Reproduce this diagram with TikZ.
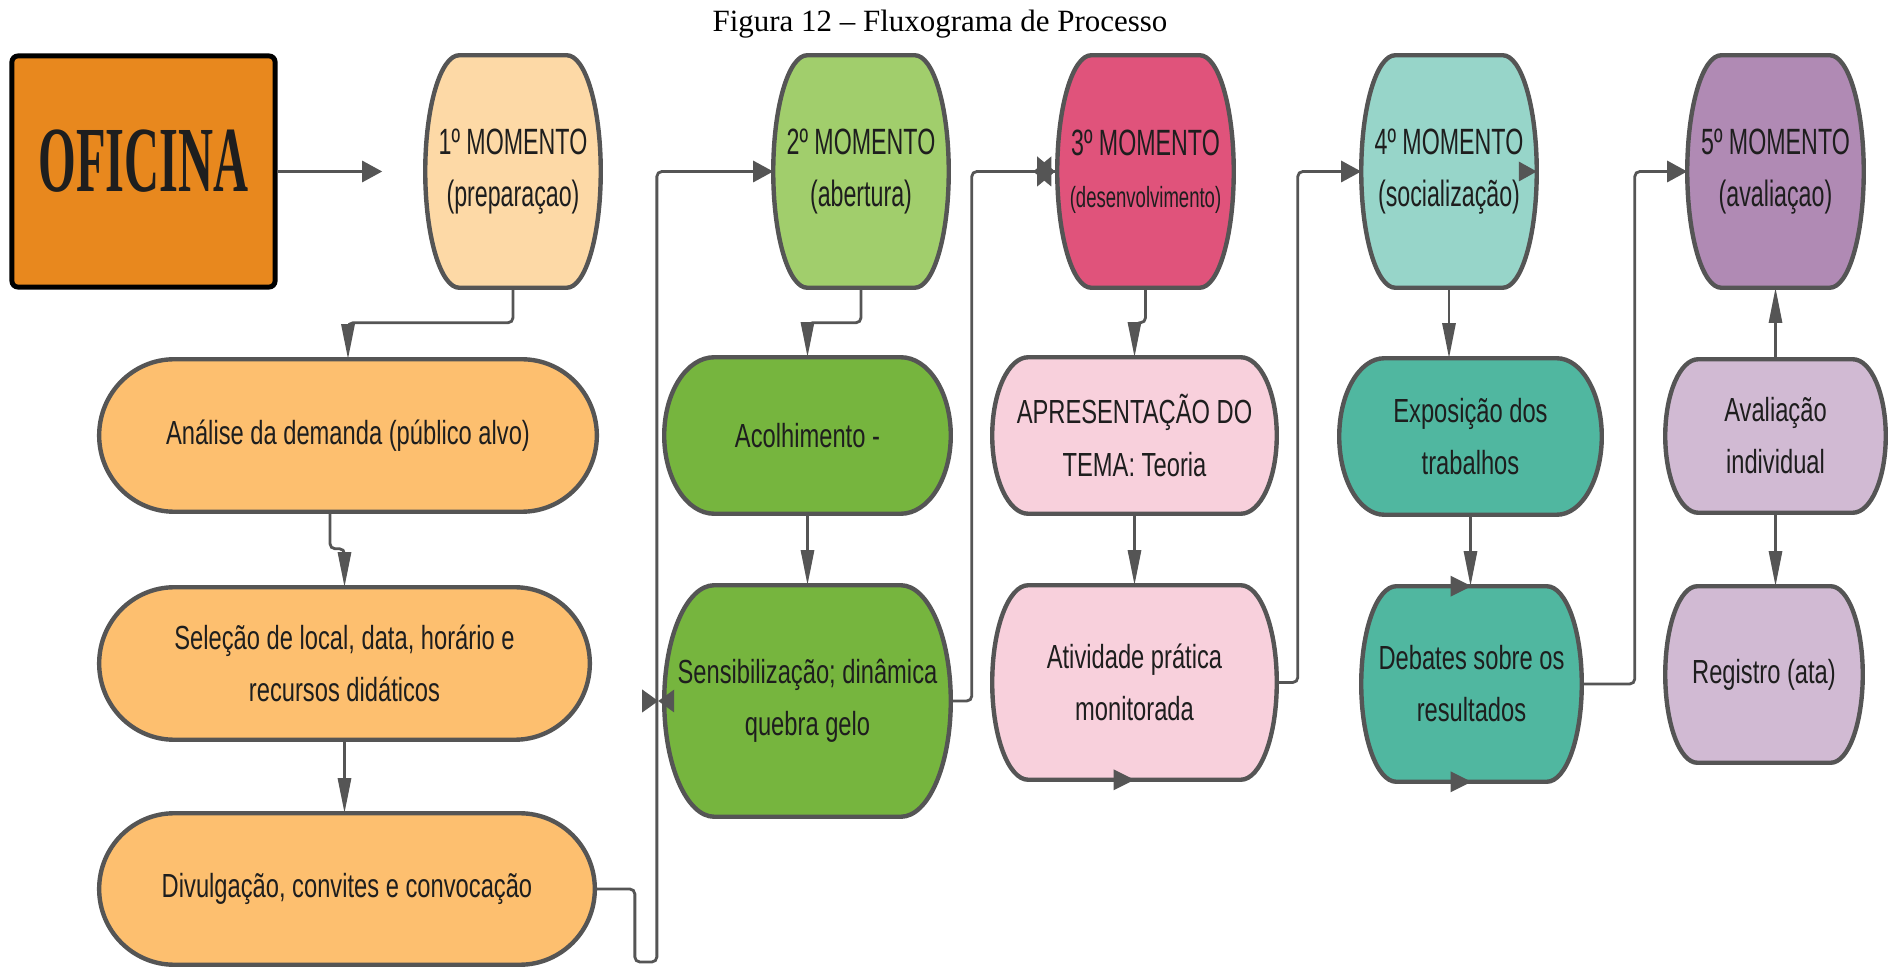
\documentclass[tikz,border=0pt]{standalone}
\usepackage{fontspec}
\setmainfont{Liberation Serif}
\newfontfamily\boxfont[FakeStretch=0.71]{Liberation Sans}
\newfontfamily\momfont[FakeStretch=0.635]{Liberation Sans}
\newfontfamily\oficfont[FakeStretch=0.52]{Liberation Serif}
\usepackage{xcolor}
\usepackage{tikz}
\usetikzlibrary{arrows.meta, calc, backgrounds}

\definecolor{linegray}{HTML}{555555}
\definecolor{txtdark}{HTML}{1E1E1E}
\definecolor{oficorange}{HTML}{E8881E}
\definecolor{momA}{HTML}{FDD9A6}
\definecolor{stepA}{HTML}{FDBF6F}
\definecolor{momB}{HTML}{A1CE6C}
\definecolor{stepB}{HTML}{76B53E}
\definecolor{momC}{HTML}{E0537B}
\definecolor{stepC}{HTML}{F8D0DC}
\definecolor{momD}{HTML}{97D5C9}
\definecolor{stepD}{HTML}{50B7A0}
\definecolor{momE}{HTML}{B08AB4}
\definecolor{stepE}{HTML}{D1BAD3}

% outline with half-ellipse ends behind a named node: node, end radius, fill
\newcommand{\pillshape}[3]{%
  \draw[boxline, fill=#3]
    let \p1=(#1.north west), \p2=(#1.south east), \n1={0.5*(\y1-\y2)} in
    (\x1+#2,\y1) -- (\x2-#2,\y1)
    arc[start angle=90, end angle=-90, x radius=#2, y radius=\n1]
    -- (\x1+#2,\y2)
    arc[start angle=270, end angle=90, x radius=#2, y radius=\n1] -- cycle;}

\begin{document}
\begin{tikzpicture}[
    x=0.01cm, y=-0.01cm,
    momento/.style={inner sep=0, minimum width=1.74cm, minimum height=2.31cm, align=center, text=txtdark, font=\momfont\fontsize{10.4pt}{14.8pt}\selectfont},
    stepbox/.style={inner sep=0, align=center, text=txtdark, font=\boxfont\fontsize{9.5pt}{14.8pt}\selectfont},
    boxline/.style={draw=linegray, line width=1.25pt},
    conn/.style={draw=linegray, line width=0.8pt, rounded corners=0.05cm},
    harrow/.style={conn, -{Triangle[length=0.2cm, width=0.21cm]}},
    varrow/.style={conn, -{Triangle[length=0.35cm, width=0.13cm]}},
]
    \useasboundingbox (0,0) rectangle (1890,967);

    % Title and start
    \node[anchor=base, font=\fontsize{8.8pt}{10pt}\selectfont] (title) at (940,32) {Figura 12 – Fluxograma de Processo};
    \node[draw=black, line width=1.4pt, rounded corners=0.06cm, fill=oficorange, minimum width=2.63cm, minimum height=2.31cm, text depth=0.22cm, text=txtdark, font=\oficfont\bfseries\fontsize{26.5pt}{28pt}\selectfont] (oficina) at (143.5,171.5) {OFICINA};

    % Moments
    \node[momento] (m1) at (513,171.5) {1º MOMENTO\\(preparaçao)};
    \node[momento] (m2) at (861,171.5) {2º MOMENTO\\(abertura)};
    \node[momento, minimum width=1.75cm] (m3) at (1145.5,171.5) {3º MOMENTO\\{\fontsize{8.3pt}{14.8pt}\selectfont(desenvolvimento)}};
    \node[momento] (m4) at (1449,171.5) {4º MOMENTO\\(socialização)};
    \node[momento, minimum width=1.75cm] (m5) at (1775.5,171.5) {5º MOMENTO\\(avaliaçao)};

    % Steps
    \node[stepbox, minimum width=4.96cm, minimum height=1.51cm] (analise) at (348,435.5) {Análise da demanda (público alvo)};
    \node[stepbox, minimum width=4.89cm, minimum height=1.51cm] (selecao) at (344.5,663.5) {Seleção de local, data, horário e\\recursos didáticos};
    \node[stepbox, minimum width=4.94cm, minimum height=1.50cm] (divulg) at (347,889) {Divulgação, convites e convocação};
    \node[stepbox, minimum width=2.85cm, minimum height=1.55cm] (acolh) at (807.5,435.5) {Acolhimento -};
    \node[stepbox, minimum width=2.85cm, minimum height=2.30cm] (sensib) at (807.5,701) {Sensibilização; dinâmica\\quebra gelo};
    \node[stepbox, minimum width=2.83cm, minimum height=1.55cm] (apres) at (1134.5,435.5) {APRESENTAÇÃO DO\\TEMA: Teoria};
    \node[stepbox, minimum width=2.83cm, minimum height=1.93cm] (ativ) at (1134.5,682.5) {Atividade prática\\monitorada};
    \node[stepbox, minimum width=2.61cm, minimum height=1.55cm] (expo) at (1470.5,436.5) {Exposição dos\\trabalhos};
    \node[stepbox, minimum width=2.19cm, minimum height=1.94cm] (debates) at (1471.5,684) {Debates sobre os\\resultados};
    \node[stepbox, minimum width=2.19cm, minimum height=1.52cm] (aval) at (1775.5,436) {Avaliação\\individual};
    \node[stepbox, minimum width=1.96cm, minimum height=1.75cm] (registro) at (1764,674.5) {Registro (ata)};

    % Box outlines
    \begin{scope}[on background layer]
        \pillshape{m1}{0.34cm}{momA}
        \pillshape{m2}{0.34cm}{momB}
        \pillshape{m3}{0.34cm}{momC}
        \pillshape{m4}{0.34cm}{momD}
        \pillshape{m5}{0.34cm}{momE}
        \pillshape{analise}{0.75cm}{stepA}
        \pillshape{selecao}{0.75cm}{stepA}
        \pillshape{divulg}{0.75cm}{stepA}
        \pillshape{acolh}{0.5cm}{stepB}
        \pillshape{sensib}{0.5cm}{stepB}
        \pillshape{apres}{0.36cm}{stepC}
        \pillshape{ativ}{0.36cm}{stepC}
        \pillshape{expo}{0.45cm}{stepD}
        \pillshape{debates}{0.35cm}{stepD}
        \pillshape{aval}{0.33cm}{stepE}
        \pillshape{registro}{0.32cm}{stepE}
    \end{scope}

    % Connectors
    \draw[harrow, shorten >=0.43cm] (oficina) -- (m1);
    \draw[varrow] (m1.south) -- ++(0,35) -| (analise.north);
    \draw[varrow] ([xshift=-0.18cm]analise.south) -- ++(0,37) -| (selecao.north);
    \draw[varrow] (selecao.south) -- (selecao.south |- divulg.north);
    \draw[harrow] (divulg.east) -- ++(40,0) -- ++(0,73) -- ++(22,0) |- (m2.west);
    \draw[varrow] (m2.south) -- ++(0,35) -| (acolh.north);
    \draw[varrow] (acolh) -- (sensib);
    \draw[conn] (sensib.east) -- ++(21,0) |- (m3.west);
    \draw[varrow] (m3.south) -- ++(0,35) -| (apres.north);
    \draw[varrow] (apres) -- (ativ);
    \draw[harrow] (ativ.east) -- ++(21,0) |- (m4.west);
    \draw[varrow] (m4.south) -- (m4.south |- expo.north);
    \draw[varrow] (expo.south) -- (expo.south |- debates.north);
    \draw[harrow] (debates.east) -- ++(53,0) |- (m5.west);
    \draw[varrow] (aval) -- (m5);
    \draw[varrow] (aval.south) -- (aval.south |- registro.north);

    % Loose arrow heads
    \fill[linegray] (m4.east) -- ++(-18,-10) -- ++(0,20) -- cycle;
    \fill[linegray] (ativ.south) -- ++(-21,-10.5) -- ++(0,21) -- cycle;
    \fill[linegray] (debates.north) -- ++(-21,-10.5) -- ++(0,21) -- cycle;
    \fill[linegray] (debates.south) -- ++(-21,-10.5) -- ++(0,21) -- cycle;
    \fill[linegray] ([xshift=-0.22cm]sensib.west) -- ++(0,-11.5) -- ++(16,11.5) -- ++(-16,11.5) -- cycle;
    \fill[linegray] ([xshift=0.1cm]sensib.west) -- ++(0,-11.5) -- ++(-16,11.5) -- ++(16,11.5) -- cycle;
    \fill[linegray] ([xshift=-0.2cm]m3.west) -- ++(0,-15) -- ++(18,15) -- ++(-18,15) -- cycle;
    \fill[linegray] ([xshift=-0.06cm]m3.west) -- ++(0,-15) -- ++(-18,15) -- ++(18,15) -- cycle;
\end{tikzpicture}
\end{document}
